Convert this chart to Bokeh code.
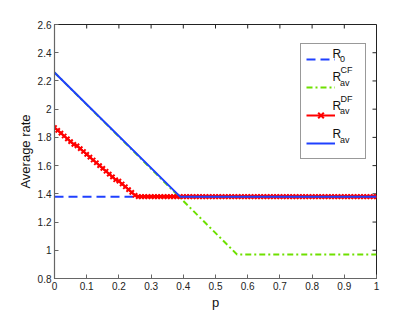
from bokeh.plotting import figure
from bokeh.models import (Range1d, FixedTicker, Legend, LegendItem, Label)
from bokeh.embed import file_html
from bokeh.resources import INLINE

# ---------------- data ----------------
x_ticks = [0, 0.1, 0.2, 0.3, 0.4, 0.5, 0.6, 0.7, 0.8, 0.9, 1]
x_tick_labels = ["0", "0.1", "0.2", "0.3", "0.4", "0.5", "0.6", "0.7", "0.8", "0.9", "1"]
y_ticks = [0.8, 1, 1.2, 1.4, 1.6, 1.8, 2, 2.2, 2.4, 2.6]
y_tick_labels = ["0.8", "1", "1.2", "1.4", "1.6", "1.8", "2", "2.2", "2.4", "2.6"]

# R_0 (constant)
r0_p = [0, 1]
r0_vals = [1.38, 1.38]

# R_av^CF
cf_p = [0, 0.567, 1]
cf_vals = [2.26, 0.97, 0.97]

# R_av^DF (sampled every 0.01, marker at each sample)
df_p = [0.00, 0.01, 0.02, 0.03, 0.04, 0.05, 0.06, 0.07, 0.08, 0.09,
        0.10, 0.11, 0.12, 0.13, 0.14, 0.15, 0.16, 0.17, 0.18, 0.19,
        0.20, 0.21, 0.22, 0.23, 0.24, 0.25, 0.26, 0.27, 0.28, 0.29,
        0.30, 0.31, 0.32, 0.33, 0.34, 0.35, 0.36, 0.37, 0.38, 0.39,
        0.40, 0.41, 0.42, 0.43, 0.44, 0.45, 0.46, 0.47, 0.48, 0.49,
        0.50, 0.51, 0.52, 0.53, 0.54, 0.55, 0.56, 0.57, 0.58, 0.59,
        0.60, 0.61, 0.62, 0.63, 0.64, 0.65, 0.66, 0.67, 0.68, 0.69,
        0.70, 0.71, 0.72, 0.73, 0.74, 0.75, 0.76, 0.77, 0.78, 0.79,
        0.80, 0.81, 0.82, 0.83, 0.84, 0.85, 0.86, 0.87, 0.88, 0.89,
        0.90, 0.91, 0.92, 0.93, 0.94, 0.95, 0.96, 0.97, 0.98, 0.99, 1.00]
df_vals = [1.87, 1.85, 1.83, 1.81, 1.79, 1.77, 1.75, 1.74, 1.72, 1.70,
           1.68, 1.66, 1.64, 1.62, 1.60, 1.58, 1.56, 1.54, 1.52, 1.50,
           1.49, 1.47, 1.45, 1.43, 1.41, 1.39] + [1.38] * 75

# R_av
rav_p = [0, 0.39, 1]
rav_vals = [2.26, 1.38, 1.38]

# ---------------- styling ----------------
FONT = "Liberation Sans"
BLUE = "#1f40ff"
GREEN = "#6ee000"
RED = "#ff0000"

X0, X1, Y0, Y1 = 0, 1, 0.8, 2.6
p = figure(width=415, height=313, x_range=Range1d(X0, X1), y_range=Range1d(Y0, Y1),
           output_backend="svg", toolbar_location=None,
           min_border_left=54, min_border_right=39, min_border_top=24,
           min_border_bottom=35)
p.outline_line_color = "#222222"
p.outline_line_width = 1
p.grid.visible = False
p.background_fill_color = "white"
p.border_fill_color = "white"

def style_axis(ax, ticks, labels):
    ax.ticker = FixedTicker(ticks=ticks)
    ax.major_label_overrides = dict(zip(ticks, labels))
    ax.major_tick_in = 4
    ax.major_tick_out = 0
    ax.minor_tick_line_color = None
    ax.axis_line_color = "#666666"
    ax.axis_line_width = 1.2
    ax.major_tick_line_color = "#666666"
    ax.major_label_text_font = FONT
    ax.major_label_text_color = "#222222"
    ax.major_label_text_font_size = "10px"
    ax.major_label_standoff = 3
    ax.axis_label_text_font = FONT
    ax.axis_label_text_font_size = "13px"
    ax.axis_label_text_font_style = "normal"
    ax.axis_label_text_color = "#111111"
    ax.axis_label_standoff = 2

style_axis(p.xaxis[0], x_ticks, x_tick_labels)
style_axis(p.yaxis[0], y_ticks, y_tick_labels)
p.xaxis.axis_label = "p"
p.yaxis.axis_label = "Average rate"

# inward ticks on the top and right edges of the box (at the same tick values)
tick_dx = 4 * (X1 - X0) / 322.0
tick_dy = 4 * (Y1 - Y0) / 254.0
p.segment(x0=x_ticks, y0=[Y1] * len(x_ticks), x1=x_ticks, y1=[Y1 - tick_dy] * len(x_ticks),
          line_color="#222222", line_width=1)
p.segment(x0=[X1] * len(y_ticks), y0=y_ticks, x1=[X1 - tick_dx] * len(y_ticks), y1=y_ticks,
          line_color="#222222", line_width=1)

r_r0 = p.line(r0_p, r0_vals, line_color=BLUE, line_width=2, line_dash="9 5")
r_cf = p.line(cf_p, cf_vals, line_color=GREEN, line_width=2, line_dash="6 3 2 3")
r_df_l = p.line(df_p, df_vals, line_color=RED, line_width=2)
r_df_m = p.scatter(df_p, df_vals, marker="x", size=6, line_color=RED, line_width=2)
r_rav = p.line(rav_p, rav_vals, line_color=BLUE, line_width=2)

legend = Legend(items=[
    LegendItem(label=" ", renderers=[r_r0]),
    LegendItem(label=" ", renderers=[r_cf]),
    LegendItem(label=" ", renderers=[r_df_l, r_df_m]),
    LegendItem(label=" ", renderers=[r_rav]),
], location=(246, 119), orientation="vertical")
legend.padding = 5
legend.margin = 0
legend.spacing = 8
legend.glyph_width = 29
legend.glyph_height = 20
legend.label_height = 20
legend.label_width = 20
legend.label_standoff = 5
legend.label_text_font_size = "12px"
legend.border_line_color = "#333333"
legend.border_line_width = 1
legend.background_fill_alpha = 0
p.add_layout(legend, "center")

# legend texts (page pixel layout -> data coords of the fixed frame)
def fx(xp):
    return X0 + (xp - 54) * (X1 - X0) / 322.0

def fy(yp):
    return Y1 - (yp - 24) * (Y1 - Y0) / 254.0

def txt(xp, yp, s, size):
    p.add_layout(Label(x=fx(xp), y=fy(yp), text=s, text_font=FONT,
                       text_font_size=size, text_color="#111111",
                       text_baseline="alphabetic", text_align="left",
                       level="overlay"))

rows = [51, 79.5, 108, 136.5]
txt(332, 53, "R", "12px")
txt(339.5, 58.5, "0", "9px")
for yl, sup in zip(rows[1:], ["CF", "DF", None]):
    txt(332, yl - 3, "R", "12px")
    txt(339.5, yl + 2.5, "av", "9px")
    if sup:
        txt(340, yl - 10, sup, "9px")

open("out.html", "w").write(file_html(p, INLINE))
